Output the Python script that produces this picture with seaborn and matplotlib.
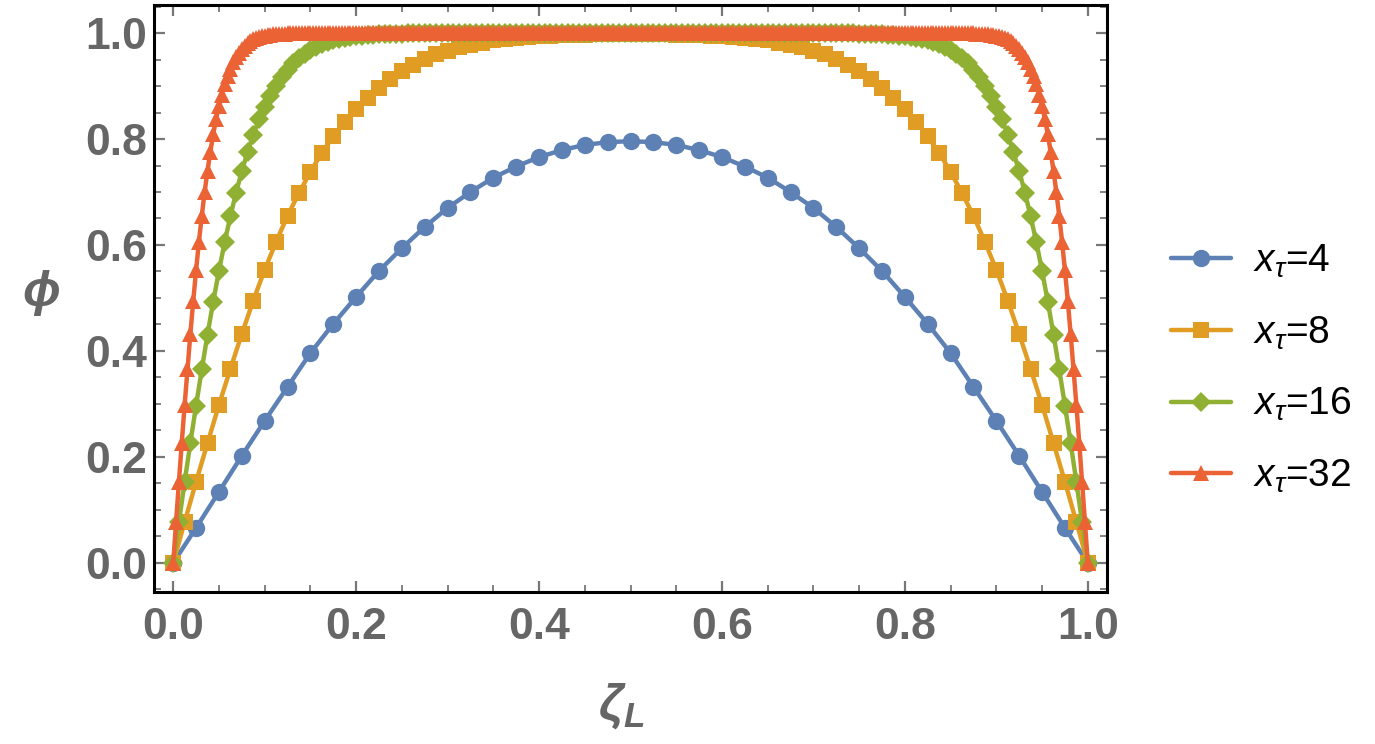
import numpy as np
import matplotlib
matplotlib.use("Agg")
import matplotlib.pyplot as plt
from matplotlib.ticker import MultipleLocator
import seaborn as sns

# ---------------- data ----------------
labels = [r"$x_\tau$=4", r"$x_\tau$=8", r"$x_\tau$=16", r"$x_\tau$=32"]

phi_x4 = [0, 0.066, 0.134, 0.202, 0.268, 0.332, 0.396, 0.451, 0.502, 0.551,
          0.594, 0.634, 0.670, 0.700, 0.727, 0.748, 0.766, 0.779, 0.789, 0.794,
          0.796,
          0.794, 0.789, 0.779, 0.766, 0.748, 0.727, 0.700, 0.670, 0.634, 0.594,
          0.551, 0.502, 0.451, 0.396, 0.332, 0.268, 0.202, 0.134, 0.066, 0]

phi_x8 = [0, 0.077, 0.153, 0.226, 0.298, 0.366, 0.432, 0.495, 0.553, 0.606,
          0.655, 0.698, 0.738, 0.774, 0.805, 0.832, 0.857, 0.878, 0.897, 0.913,
          0.928, 0.940, 0.951, 0.960, 0.967, 0.973, 0.978, 0.982, 0.986, 0.988,
          0.991, 0.992, 0.994, 0.995, 0.996, 0.997, 0.997, 0.998, 0.998, 0.998,
          0.998,
          0.998, 0.998, 0.998, 0.997, 0.997, 0.996, 0.995, 0.994, 0.992, 0.991,
          0.988, 0.986, 0.982, 0.978, 0.973, 0.967, 0.960, 0.951, 0.940, 0.928,
          0.913, 0.897, 0.878, 0.857, 0.832, 0.805, 0.774, 0.738, 0.698, 0.655,
          0.606, 0.553, 0.495, 0.432, 0.366, 0.298, 0.226, 0.153, 0.077, 0]

phi_x16 = [0, 0.077, 0.153, 0.226, 0.297, 0.365, 0.431, 0.493, 0.551, 0.605,
           0.654, 0.699, 0.739, 0.775, 0.808, 0.837, 0.861, 0.882, 0.901, 0.917,
           0.931, 0.943, 0.953, 0.961, 0.968, 0.974, 0.979, 0.983, 0.986, 0.989,
           0.991, 0.993, 0.994, 0.995, 0.996, 0.997, 0.998, 0.998, 0.999, 0.999,
           0.999,
           1, 1, 1, 1, 1, 1, 1, 1, 1, 1, 1, 1, 1, 1, 1, 1, 1, 1, 1, 1,
           1, 1, 1, 1, 1, 1, 1, 1, 1, 1, 1, 1, 1, 1, 1, 1, 1, 1, 1, 1,
           1, 1, 1, 1, 1, 1, 1, 1, 1, 1, 1, 1, 1, 1, 1, 1, 1, 1, 1, 1,
           1, 1, 1, 1, 1, 1, 1, 1, 1, 1, 1, 1, 1, 1, 1, 1, 1, 1, 1,
           0.999,
           0.999, 0.999, 0.998, 0.998, 0.997, 0.996, 0.995, 0.994, 0.993, 0.991,
           0.989, 0.986, 0.983, 0.979, 0.974, 0.968, 0.961, 0.953, 0.943, 0.931,
           0.917, 0.901, 0.882, 0.861, 0.837, 0.808, 0.775, 0.739, 0.699, 0.654,
           0.605, 0.551, 0.493, 0.431, 0.365, 0.297, 0.226, 0.153, 0.077, 0]

phi_x32 = [0, 0.077, 0.153, 0.227, 0.298, 0.366, 0.432, 0.494, 0.552, 0.606,
           0.655, 0.700, 0.740, 0.776, 0.809, 0.838, 0.862, 0.884, 0.903, 0.919,
           0.933, 0.945, 0.955, 0.963, 0.970, 0.976, 0.981, 0.985, 0.988, 0.990,
           0.992, 0.994, 0.995, 0.996, 0.997, 0.998, 0.998, 0.999, 0.999, 0.999,
           1, 1, 1, 1, 1, 1, 1, 1, 1, 1, 1, 1, 1, 1, 1, 1, 1, 1, 1, 1,
           1, 1, 1, 1, 1, 1, 1, 1, 1, 1, 1, 1, 1, 1, 1, 1, 1, 1, 1, 1,
           1, 1, 1, 1, 1, 1, 1, 1, 1, 1, 1, 1, 1, 1, 1, 1, 1, 1, 1, 1,
           1, 1, 1, 1, 1, 1, 1, 1, 1, 1, 1, 1, 1, 1, 1, 1, 1, 1, 1, 1,
           1, 1, 1, 1, 1, 1, 1, 1, 1, 1, 1, 1, 1, 1, 1, 1, 1, 1, 1, 1,
           1, 1, 1, 1, 1, 1, 1, 1, 1, 1, 1, 1, 1, 1, 1, 1, 1, 1, 1, 1,
           1, 1, 1, 1, 1, 1, 1, 1, 1, 1, 1, 1, 1, 1, 1, 1, 1, 1, 1, 1,
           1, 1, 1, 1, 1, 1, 1, 1, 1, 1, 1, 1, 1, 1, 1, 1, 1, 1, 1, 1,
           1, 1, 1, 1, 1, 1, 1, 1, 1, 1, 1, 1, 1, 1, 1, 1, 1, 1, 1, 1,
           1, 1, 1, 1, 1, 1, 1, 1, 1, 1, 1, 1, 1, 1, 1, 1, 1, 1, 1, 1,
           1, 1, 1, 1, 1, 1, 1, 1, 1, 1, 1, 1, 1, 1, 1, 1, 1, 1, 1, 1,
           1, 1, 1, 1, 1, 1, 1, 1, 1, 1, 1, 1, 1, 1, 1, 1, 1, 1, 1, 1,
           1,
           0.999, 0.999, 0.999, 0.998, 0.998, 0.997, 0.996, 0.995, 0.994, 0.992,
           0.990, 0.988, 0.985, 0.981, 0.976, 0.970, 0.963, 0.955, 0.945, 0.933,
           0.919, 0.903, 0.884, 0.862, 0.838, 0.809, 0.776, 0.740, 0.700, 0.655,
           0.606, 0.552, 0.494, 0.432, 0.366, 0.298, 0.227, 0.153, 0.077, 0]

xticks = [0.0, 0.2, 0.4, 0.6, 0.8, 1.0]
yticks = [0.0, 0.2, 0.4, 0.6, 0.8, 1.0]

series = [phi_x4, phi_x8, phi_x16, phi_x32]
colors = ["#5E81B5", "#E19C24", "#8FB032", "#EB6235"]
markers = ["o", "s", "D", "^"]
msizes = [12.5, 11.5, 10.5, 12.0]

# ---------------- style ----------------
sns.set_theme(style="white")
plt.rcParams["font.family"] = ["Liberation Sans", "DejaVu Sans"]
plt.rcParams["mathtext.fontset"] = "custom"
plt.rcParams["mathtext.rm"] = "Liberation Sans"
plt.rcParams["mathtext.it"] = "Liberation Sans:italic"
plt.rcParams["mathtext.bf"] = "Liberation Sans:bold:italic"

fig = plt.figure(figsize=(13.75, 7.44), dpi=100)
ax = fig.add_axes([0.112, 0.2043, 0.6931, 0.789])

for y, c, m, ms, lab in zip(series, colors, markers, msizes, labels):
    x = np.linspace(0.0, 1.0, len(y))
    sns.lineplot(x=x, y=y, ax=ax, color=c, marker=m, markersize=ms,
                 markeredgewidth=0, linewidth=3.2, label=lab, errorbar=None,
                 legend=False)

ax.set_xlim(-0.021, 1.021)
ax.set_ylim(-0.055, 1.053)
ax.set_xticks(xticks)
ax.set_yticks(yticks)
ax.set_xticklabels([f"{v:.1f}" for v in xticks])
ax.set_yticklabels([f"{v:.1f}" for v in yticks])
ax.xaxis.set_minor_locator(MultipleLocator(0.05))
ax.yaxis.set_minor_locator(MultipleLocator(0.05))

gray = "#666666"
ax.tick_params(which="both", direction="in", top=True, right=True,
               bottom=True, left=True, color="#777777")
ax.tick_params(which="major", length=8, width=1.6, labelsize=32,
               labelcolor=gray)
ax.tick_params(which="minor", length=5, width=1.3)
ax.tick_params(axis="x", which="major", pad=11)
ax.tick_params(axis="y", which="major", pad=5)
for t in ax.get_xticklabels() + ax.get_yticklabels():
    t.set_fontweight("bold")

for s in ax.spines.values():
    s.set_visible(True)
    s.set_color("black")
    s.set_linewidth(2.2)
ax.grid(False)

ax.set_ylabel("ϕ", fontsize=36, color=gray, fontweight="bold",
              fontstyle="italic", rotation=0, labelpad=0)
ax.yaxis.set_label_coords(-0.118, 0.47)
ax.set_xlabel(r"$\mathbf{\zeta}_{\mathbf{L}}$", fontsize=36, color=gray)
ax.xaxis.set_label_coords(0.49, -0.152)

handles = ax.get_lines()[:4]
fig.legend(handles, labels, loc="center left",
           bbox_to_anchor=(1171 / 1375, 1 - 369 / 744), frameon=False,
           fontsize=28, handlelength=1.55, handletextpad=0.55,
           labelspacing=0.88, borderaxespad=0, borderpad=0,
           labelcolor="black")

fig.savefig("out.png", dpi=100)
